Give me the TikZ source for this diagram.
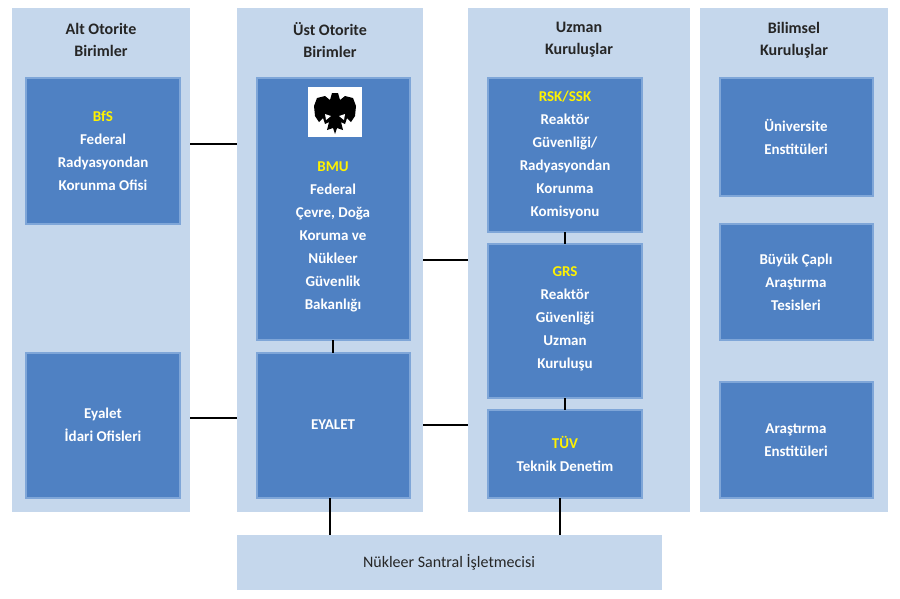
\documentclass[tikz,border=0pt]{standalone}
\usepackage{fontspec}
\setmainfont{Carlito}
\begin{document}
\begin{tikzpicture}[x=1pt,y=-1pt,
 col/.style={fill=colbg,draw=none},
 box/.style={fill=boxbg,draw=boxbd,line width=1.2pt},
 txt/.style={text=white,font=\bfseries\fontsize{15}{23}\selectfont,align=center},
 ttl/.style={text=black!85,font=\bfseries\fontsize{16}{22}\selectfont,align=center},
 yl/.style={text=yellow},
 ln/.style={line width=2.2pt,black}]
\definecolor{colbg}{HTML}{C5D7EC}
\definecolor{boxbg}{HTML}{4F81C3}
\definecolor{boxbd}{HTML}{7FA6D8}
\useasboundingbox (0,0) rectangle (900,598);
\fill[white] (0,0) rectangle (900,598);
% columns
\path[col] (12,8) rectangle (190,512);
\path[col] (237,8) rectangle (423,512);
\path[col] (468,8) rectangle (690,512);
\path[col] (700,8) rectangle (888,512);
\path[col] (237,535) rectangle (662,590);
\node[ttl] (t1) at (101,40) {Alt Otorite\\Birimler};
\node[ttl] (t2) at (330,40) {Üst Otorite\\Birimler};
\node[ttl] (t3) at (579,40) {Uzman\\Kuruluşlar};
\node[ttl] (t4) at (794,40) {Bilimsel\\Kuruluşlar};
\node[text=black!85,font=\fontsize{16}{20}\selectfont] (nk) at (449,562) {Nükleer Santral İşletmecisi};
% boxes
\draw[box] (26,78) rectangle (180,224); \coordinate (bfsR) at (180,144);
\node[txt] (bfs) at (103,151) {\textcolor{yellow}{BfS}\\Federal\\Radyasyondan\\Korunma Ofisi};
\draw[box] (26,353) rectangle (180,498);
\node[txt] (ey1) at (103,425) {Eyalet\\İdari Ofisleri};
\draw[box] (257,78) rectangle (410,340);
\fill[white] (308,87) rectangle (362,137);
\begin{scope}[shift={(335,112)}]
 \fill[black] (-3,-19) -- (3,-19) -- (5,-12) -- (10,-16) -- (18,-14) -- (21,-6) -- (20,4) -- (16,10) -- (12,6) -- (10,12) -- (6,10) -- (8,18) -- (2,16) -- (0,22) -- (-2,16) -- (-8,18) -- (-6,10) -- (-10,12) -- (-12,6) -- (-16,10) -- (-20,4) -- (-21,-6) -- (-18,-14) -- (-10,-16) -- (-5,-12) -- cycle;
 \fill[white] (4,4) -- (10,2) -- (9,8) -- cycle;
 \fill[white] (-4,4) -- (-10,2) -- (-9,8) -- cycle;
\end{scope}
\node[txt] (bmu) at (333,237) {\textcolor{yellow}{BMU}\\Federal\\Çevre, Doğa\\Koruma ve\\Nükleer\\Güvenlik\\Bakanlığı};
\draw[box] (257,353) rectangle (410,498);
\node[txt] (ey2) at (333,425) {EYALET};
\draw[box] (488,78) rectangle (642,232);
\node[txt] (rsk) at (565,155) {\textcolor{yellow}{RSK/SSK}\\Reaktör\\Güvenliği/\\Radyasyondan\\Korunma\\Komisyonu};
\draw[box] (488,244) rectangle (642,398);
\node[txt] (grs) at (565,319) {\textcolor{yellow}{GRS}\\Reaktör\\Güvenliği\\Uzman\\Kuruluşu};
\draw[box] (488,410) rectangle (642,498);
\node[txt] (tuv) at (565,454) {\textcolor{yellow}{TÜV}\\Teknik Denetim};
\draw[box] (720,78) rectangle (873,196);
\node[txt] (uni) at (796,137) {Üniversite\\Enstitüleri};
\draw[box] (720,224) rectangle (873,340);
\node[txt] (buy) at (796,282) {Büyük Çaplı\\Araştırma\\Tesisleri};
\draw[box] (720,382) rectangle (873,498);
\node[txt] (ara) at (796,440) {Araştırma\\Enstitüleri};
% connectors
\coordinate (a1) at (190,144); \coordinate (a2) at (237,144);
\coordinate (b1) at (190,418); \coordinate (b2) at (237,418);
\coordinate (c1) at (423,260); \coordinate (c2) at (468,260);
\coordinate (d1) at (423,425); \coordinate (d2) at (468,425);
\coordinate (e1) at (333,340); \coordinate (e2) at (333,353);
\coordinate (f1) at (565,232); \coordinate (f2) at (565,244);
\coordinate (g1) at (565,398); \coordinate (g2) at (565,410);
\coordinate (h1) at (330,498); \coordinate (h2) at (330,535);
\coordinate (i1) at (560,498); \coordinate (i2) at (560,535);
\foreach \p/\q in {a1/a2,b1/b2,c1/c2,d1/d2,e1/e2,f1/f2,g1/g2,h1/h2,i1/i2} \draw[ln] (\p) -- (\q);
\end{tikzpicture}
\end{document}
